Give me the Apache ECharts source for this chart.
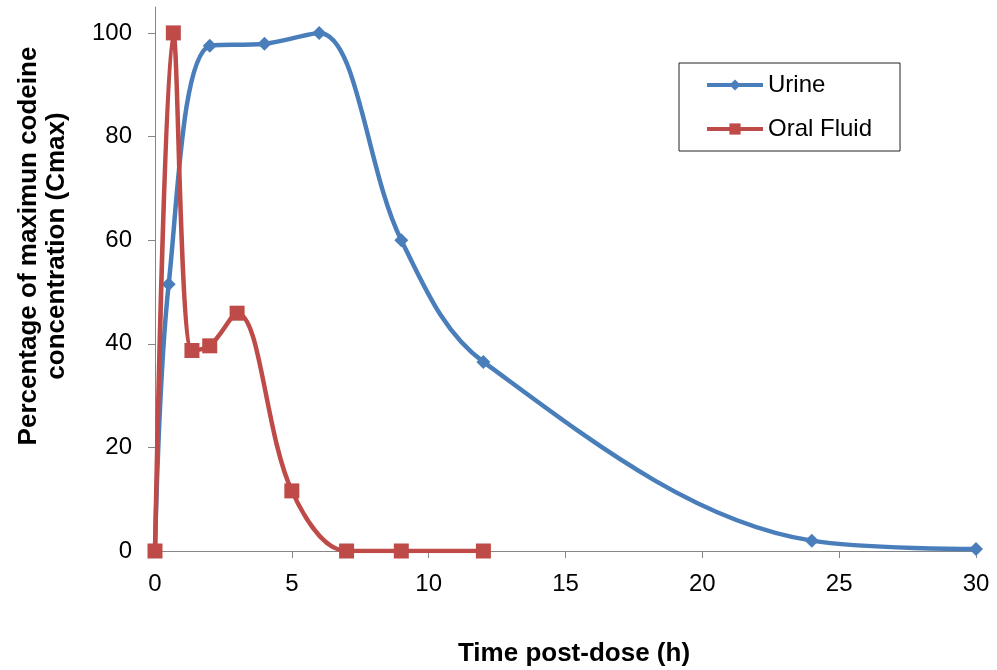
<!DOCTYPE html>
<html>
<head>
<meta charset="utf-8">
<script src="https://cdn.jsdelivr.net/npm/echarts@6/dist/echarts.min.js"></script>
<style>html,body{margin:0;padding:0;background:#fff}#c{width:997px;height:670px}</style>
</head>
<body>
<div id="c"></div>
<script>
const urineX = [0, 0.5, 2, 4, 6, 9, 12, 24, 30];
const urineY = [0, 51.5, 97.5, 97.9, 100, 60, 36.5, 2, 0.4];
const oralX = [0, 0.67, 1.35, 2, 3, 5, 7, 9, 12];
const oralY = [0, 100, 38.7, 39.6, 45.9, 11.6, 0, 0, 0];
const xTicks = [0, 5, 10, 15, 20, 25, 30];
const yTicks = [0, 20, 40, 60, 80, 100];
const seriesNames = ['Urine', 'Oral Fluid'];
const xTitle = 'Time post-dose (h)';
const yTitle = ['Percentage of maximun codeine', 'concentration (Cmax)'];

const font = 'Liberation Sans, Arial, sans-serif';
const chart = echarts.init(document.getElementById('c'));
chart.setOption({
  animation: false,
  backgroundColor: '#fff',
  grid: { left: 155, right: 21, top: 7, bottom: 119, outerBoundsMode: 'none', containLabel: false },
  legend: {
    orient: 'vertical', left: 679, top: 63,
    padding: [10, 28, 10, 26],
    borderColor: '#222', borderWidth: 1,
    itemWidth: 56, itemHeight: 14, itemGap: 20,
    lineStyle: { width: 4 },
    textStyle: { fontFamily: font, fontSize: 24, color: '#000' },
    data: seriesNames
  },
  xAxis: {
    type: 'value', min: 0, max: 30, interval: 5,
    name: xTitle, nameLocation: 'middle', nameGap: 90,
    nameTextStyle: { fontFamily: font, fontSize: 26, fontWeight: 'bold', color: '#000', padding: [0, 0, 0, 17] },
    axisLine: { show: true, lineStyle: { color: '#868686', width: 1 } },
    axisTick: { show: true, length: 7, lineStyle: { color: '#868686' }, customValues: xTicks },
    axisLabel: { fontFamily: font, fontSize: 24, color: '#000', margin: 21, customValues: xTicks },
    splitLine: { show: false }
  },
  yAxis: {
    type: 'value', min: 0, max: 105, interval: 20,
    axisLine: { show: true, lineStyle: { color: '#868686', width: 1 } },
    axisTick: { show: true, length: 7, lineStyle: { color: '#868686' }, customValues: yTicks },
    axisLabel: { fontFamily: font, fontSize: 24, color: '#000', margin: 23, customValues: yTicks },
    splitLine: { show: false }
  },
  graphic: [{
    type: 'text',
    x: 43, y: 246,
    rotation: Math.PI / 2,
    style: {
      text: yTitle.join('\n'),
      font: 'bold 26px ' + font,
      fill: '#000',
      textAlign: 'center',
      textVerticalAlign: 'middle',
      lineHeight: 28
    }
  }],
  series: [
    {
      name: seriesNames[0], type: 'line', smooth: 0.35,
      data: urineX.map((x, i) => [x, urineY[i]]),
      symbol: 'diamond', symbolSize: 14,
      lineStyle: { color: '#4A7EBB', width: 4.5 },
      itemStyle: { color: '#4A7EBB' },
      z: 2
    },
    {
      name: seriesNames[1], type: 'line', smooth: 0.35,
      data: oralX.map((x, i) => [x, oralY[i]]),
      symbol: 'rect', symbolSize: 15,
      lineStyle: { color: '#BE4B48', width: 4.5 },
      itemStyle: { color: '#BE4B48' },
      z: 3
    }
  ]
});
</script>
</body>
</html>
